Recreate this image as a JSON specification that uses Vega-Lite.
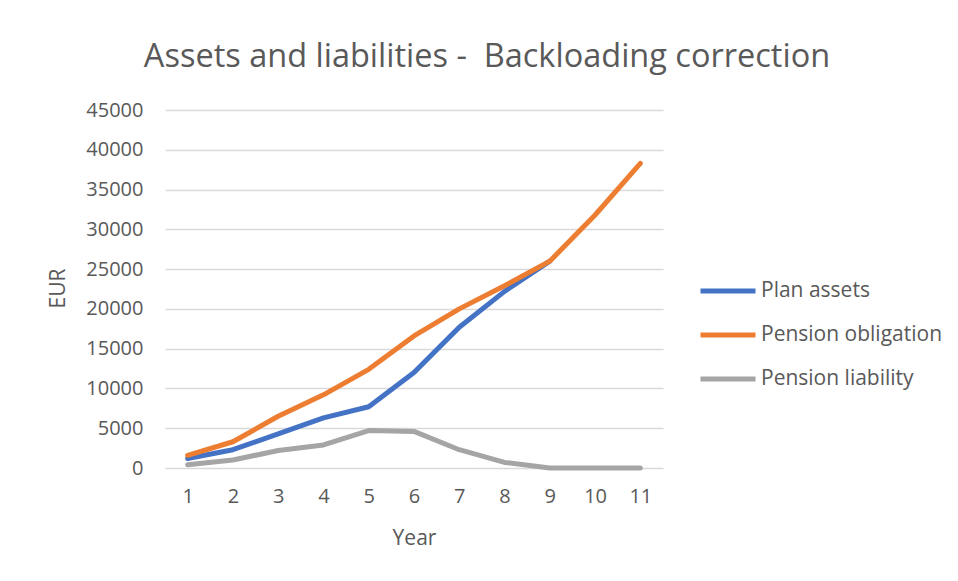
{
  "$schema": "https://vega.github.io/schema/vega-lite/v6.json",
  "width": 498,
  "height": 358,
  "autosize": "none",
  "padding": {"left": 165, "top": 110, "right": 295, "bottom": 113},
  "background": "white",
  "config": {
    "font": "Open Sans",
    "view": {"stroke": null}
  },
  "title": {
    "text": "Assets and liabilities - \u00a0Backloading correction",
    "font": "Open Sans",
    "fontSize": 32.5,
    "fontWeight": "normal",
    "color": "#595959",
    "anchor": "middle",
    "dx": 73,
    "offset": 27
  },
  "data": {
    "values": [
      {"year": 1, "series": "Plan assets", "value": 1200},
      {"year": 2, "series": "Plan assets", "value": 2300},
      {"year": 3, "series": "Plan assets", "value": 4300},
      {"year": 4, "series": "Plan assets", "value": 6300},
      {"year": 5, "series": "Plan assets", "value": 7700},
      {"year": 6, "series": "Plan assets", "value": 12000},
      {"year": 7, "series": "Plan assets", "value": 17700},
      {"year": 8, "series": "Plan assets", "value": 22200},
      {"year": 9, "series": "Plan assets", "value": 26000},
      {"year": 1, "series": "Pension obligation", "value": 1600},
      {"year": 2, "series": "Pension obligation", "value": 3300},
      {"year": 3, "series": "Pension obligation", "value": 6500},
      {"year": 4, "series": "Pension obligation", "value": 9200},
      {"year": 5, "series": "Pension obligation", "value": 12400},
      {"year": 6, "series": "Pension obligation", "value": 16600},
      {"year": 7, "series": "Pension obligation", "value": 20000},
      {"year": 8, "series": "Pension obligation", "value": 22900},
      {"year": 9, "series": "Pension obligation", "value": 26000},
      {"year": 10, "series": "Pension obligation", "value": 31800},
      {"year": 11, "series": "Pension obligation", "value": 38300},
      {"year": 1, "series": "Pension liability", "value": 400},
      {"year": 2, "series": "Pension liability", "value": 1000},
      {"year": 3, "series": "Pension liability", "value": 2200},
      {"year": 4, "series": "Pension liability", "value": 2900},
      {"year": 5, "series": "Pension liability", "value": 4700},
      {"year": 6, "series": "Pension liability", "value": 4600},
      {"year": 7, "series": "Pension liability", "value": 2300},
      {"year": 8, "series": "Pension liability", "value": 700},
      {"year": 9, "series": "Pension liability", "value": 0},
      {"year": 10, "series": "Pension liability", "value": 0},
      {"year": 11, "series": "Pension liability", "value": 0}
    ]
  },
  "mark": {"type": "line", "strokeWidth": 5, "strokeCap": "round", "strokeJoin": "round"},
  "encoding": {
    "x": {
      "field": "year",
      "type": "ordinal",
      "scale": {"type": "point", "padding": 0.5},
      "axis": {
        "title": "Year",
        "labelAngle": 0,
        "labelFontSize": 20,
        "labelColor": "#595959",
        "labelPadding": 18,
        "titleFontSize": 21,
        "titleFontWeight": "normal",
        "titleColor": "#595959",
        "titlePadding": 21,
        "domain": false,
        "ticks": false,
        "grid": false
      }
    },
    "y": {
      "field": "value",
      "type": "quantitative",
      "scale": {"domain": [0, 45000], "nice": false},
      "axis": {
        "title": "EUR",
        "values": [0, 5000, 10000, 15000, 20000, 25000, 30000, 35000, 40000, 45000],
        "format": "d",
        "labelFontSize": 20,
        "labelColor": "#595959",
        "labelPadding": 22,
        "titleFontSize": 21,
        "titleFontWeight": "normal",
        "titleColor": "#595959",
        "titleX": -107,
        "titleY": 178,
        "titleAngle": -90,
        "titleBaseline": "middle",
        "titleAlign": "center",
        "domain": false,
        "ticks": false,
        "grid": true,
        "gridColor": "#d9d9d9",
        "gridWidth": 1.5
      }
    },
    "color": {
      "field": "series",
      "type": "nominal",
      "sort": ["Plan assets", "Pension obligation", "Pension liability"],
      "scale": {
        "domain": ["Plan assets", "Pension obligation", "Pension liability"],
        "range": ["#4472C4", "#ED7D31", "#A5A5A5"]
      },
      "legend": {
        "title": null,
        "orient": "none",
        "legendX": 533,
        "legendY": 151,
        "symbolType": "stroke",
        "symbolSize": 3025,
        "symbolStrokeWidth": 5,
        "labelFontSize": 21,
        "labelColor": "#595959",
        "labelOffset": 3,
        "labelLimit": 400,
        "rowPadding": 4
      }
    }
  }
}
